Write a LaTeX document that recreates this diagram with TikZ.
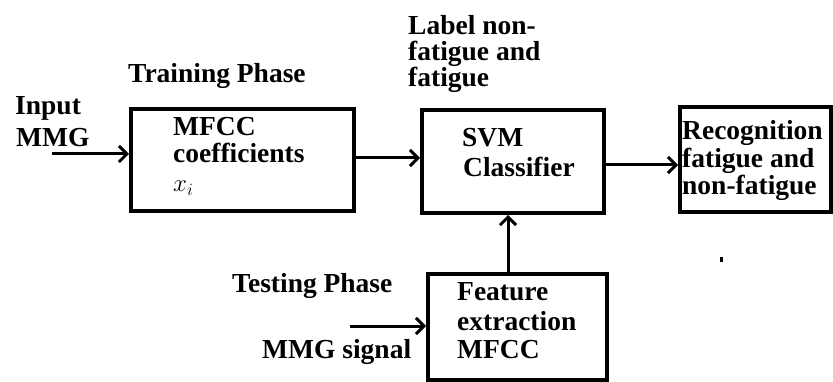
\documentclass[tikz,border=0pt]{standalone}
\usepackage{fontspec}
\setmainfont{Liberation Serif}
\usetikzlibrary{arrows.meta}
\begin{document}
\begin{tikzpicture}[x=1pt,y=-1pt,
  blk/.style={draw, line width=4pt, inner sep=0pt, anchor=north west},
  lbl/.style={anchor=base west, inner sep=0pt, font=\fontsize{27.5}{28}\selectfont\bfseries},
  flow/.style={line width=3pt, -{Straight Barb[length=8pt,width=16pt,line width=3pt]}}]
\useasboundingbox (0,0) rectangle (833,382);

% processing blocks
\node[blk, minimum width=223, minimum height=102] (mfcc) at (129,107) {};
\node[blk, minimum width=182, minimum height=103] (svm)  at (420,108) {};
\node[blk, minimum width=151, minimum height=105] (rec)  at (678,105) {};
\node[blk, minimum width=179, minimum height=106] (feat) at (426,272) {};

% block texts
\node[lbl] (t1) at (173,136) {MFCC};
\node[lbl] (t2) at (173,163) {coefficients};
\node[anchor=base west, inner sep=0pt, font=\fontsize{25}{27}\selectfont] (t3) at (173,192) {$x_i$};

\node[lbl] (s1) at (462,147) {SVM};
\node[lbl] (s2) at (463,177) {Classifier};

\node[lbl] (r1) at (682,140) {Recognition};
\node[lbl] (r2) at (682,168) {fatigue and};
\node[lbl] (r3) at (682,195) {non-fatigue};

\node[lbl] (f1) at (457,300) {Feature};
\node[lbl] (f2) at (457,330) {extraction};
\node[lbl] (f3) at (457,358) {MFCC};

% free labels
\node[lbl] (in1) at (15,115) {Input};
\node[lbl] (in2) at (16,147) {MMG};
\node[lbl] (tr) at (128,83) {Training Phase};
\node[lbl] (l1) at (408,35) {Label non-};
\node[lbl] (l2) at (408,61) {fatigue and};
\node[lbl] (l3) at (408,87) {fatigue};
\node[lbl] (te) at (232,292) {Testing Phase};
\node[lbl] (ms) at (262,358) {MMG signal};

% connectors
\coordinate (inA) at (52,154);
\coordinate (sig) at (350,326);
\draw[flow] (inA) -- (inA -| mfcc.west);
\draw[flow] ([yshift=2pt]mfcc.east) -- ([yshift=2pt]mfcc.east -| svm.west);
\draw[flow] ([yshift=-3.5pt]svm.east) -- ([yshift=-3.5pt]svm.east -| rec.west);
\draw[flow] ([xshift=-9.5pt]feat.north) -- ([xshift=-9.5pt]feat.north |- svm.south);
\draw[flow] (sig) -- (sig -| feat.west);

% stray dot
\fill (719.5,257.5) rectangle (722.5,262.5);
\end{tikzpicture}
\end{document}
